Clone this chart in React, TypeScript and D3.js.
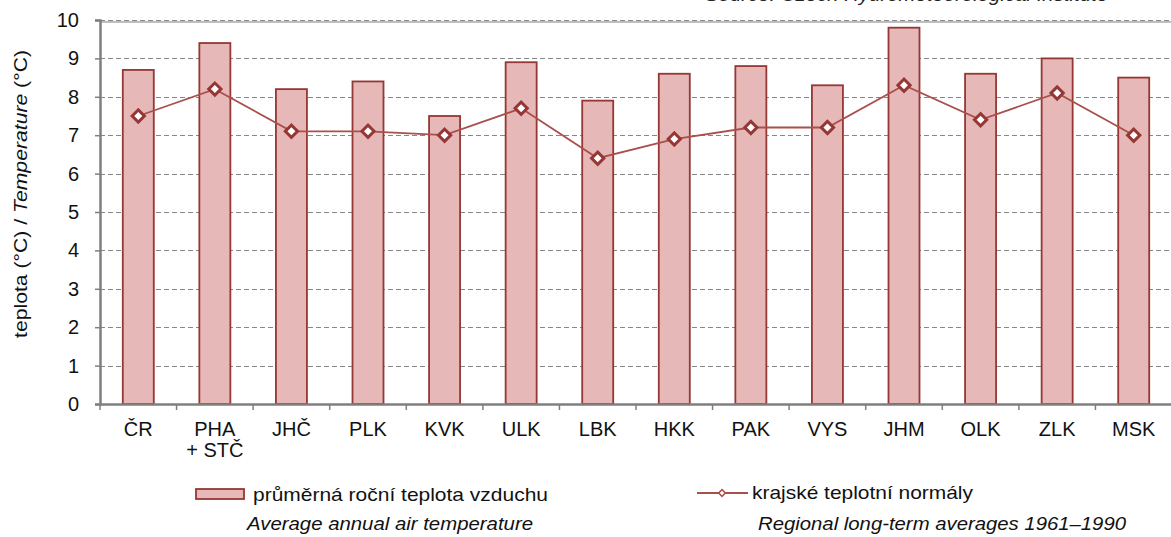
import { useRef, useEffect } from "react";
import * as d3 from "d3";

const categories = ["ČR", "PHA\n+ STČ", "JHČ", "PLK", "KVK", "ULK", "LBK", "HKK", "PAK", "VYS", "JHM", "OLK", "ZLK", "MSK"];
const annualTemp = [8.7, 9.4, 8.2, 8.4, 7.5, 8.9, 7.9, 8.6, 8.8, 8.3, 9.8, 8.6, 9.0, 8.5];
const normals = [7.5, 8.2, 7.1, 7.1, 7.0, 7.7, 6.4, 6.9, 7.2, 7.2, 8.3, 7.4, 8.1, 7.0];
const yTicks = [0, 1, 2, 3, 4, 5, 6, 7, 8, 9, 10];

const FONT = "'Liberation Sans', Arial, sans-serif";
const BAR_FILL = "#e6b8b7";
const BAR_STROKE = "#953735";
const LINE_COLOR = "#a9504d";

export default function App() {
  const svgRef = useRef<SVGSVGElement>(null);

  useEffect(() => {
    const svg = d3.select(svgRef.current);
    svg.selectAll("*").remove();

    const width = 1171;
    const height = 537;
    const margin = { top: 20, right: -1, bottom: 133, left: 100 };

    svg.attr("width", width).attr("height", height).style("font-family", FONT);

    const x = d3
      .scaleBand()
      .domain(categories)
      .range([margin.left, width - margin.right])
      .paddingInner(0)
      .paddingOuter(0);

    const y = d3
      .scaleLinear()
      .domain([0, 10])
      .range([height - margin.bottom, margin.top]);

    // source line, mostly cut off by the top edge
    svg
      .append("text")
      .attr("x", 705)
      .attr("y", 1)
      .attr("font-size", 19)
      .attr("font-style", "italic")
      .attr("fill", "#222")
      .attr("textLength", 403)
      .attr("lengthAdjust", "spacingAndGlyphs")
      .text("Source: Czech Hydrometeorological Institute");

    // gridlines
    svg
      .append("g")
      .selectAll("line")
      .data(yTicks.filter(d => d > 0))
      .enter()
      .append("line")
      .attr("x1", margin.left)
      .attr("x2", width)
      .attr("y1", d => Math.round(y(d)) + 0.5)
      .attr("y2", d => Math.round(y(d)) + 0.5)
      .attr("stroke", "#868686")
      .attr("stroke-width", 1.2)
      .attr("stroke-dasharray", "5,3");

    // top border (solid under dashes)
    svg
      .append("line")
      .attr("x1", margin.left)
      .attr("x2", width)
      .attr("y1", y(10) + 2)
      .attr("y2", y(10) + 2)
      .attr("stroke", "#7f7f7f")
      .attr("stroke-width", 1.2);

    // bars
    const barW = 31;
    svg
      .append("g")
      .selectAll("rect")
      .data(annualTemp)
      .enter()
      .append("rect")
      .attr("x", (d, i) => x(categories[i])! + x.bandwidth() / 2 - barW / 2)
      .attr("y", d => y(d))
      .attr("width", barW)
      .attr("height", d => y(0) - y(d))
      .attr("fill", BAR_FILL)
      .attr("stroke", BAR_STROKE)
      .attr("stroke-width", 1.8);

    // Y axis
    const yAxis = svg
      .append("g")
      .attr("transform", `translate(${margin.left},0)`)
      .call(d3.axisLeft(y).tickValues(yTicks).tickSize(5).tickPadding(16).tickFormat(d3.format("d")));
    yAxis.select(".domain").attr("stroke", "#7f7f7f").attr("stroke-width", 2.5);
    yAxis.selectAll(".tick line").attr("stroke", "#7f7f7f").attr("stroke-width", 1.5);
    yAxis.selectAll(".tick text").attr("font-size", 20).attr("font-family", FONT).attr("fill", "#111");

    // X axis
    const xAxis = svg
      .append("g")
      .attr("transform", `translate(0,${y(0)})`)
      .call(d3.axisBottom(x).tickSize(0).tickFormat(() => ""));
    xAxis.select(".domain").attr("stroke", "#7f7f7f").attr("stroke-width", 2.5);
    xAxis
      .selectAll(".sep")
      .data(categories)
      .enter()
      .append("line")
      .attr("x1", d => x(d)!)
      .attr("x2", d => x(d)!)
      .attr("y1", 0)
      .attr("y2", 6)
      .attr("stroke", "#7f7f7f")
      .attr("stroke-width", 1.5);

    // category labels
    const labels = svg
      .append("g")
      .selectAll("text")
      .data(categories)
      .enter()
      .append("text")
      .attr("x", d => x(d)! + x.bandwidth() / 2)
      .attr("y", y(0) + 32)
      .attr("text-anchor", "middle")
      .attr("font-size", 20)
      .attr("fill", "#111");
    labels
      .selectAll("tspan")
      .data(d => d.split("\n"))
      .enter()
      .append("tspan")
      .attr("x", function () {
        return (this.parentNode as SVGTextElement).getAttribute("x");
      })
      .attr("dy", (d, i) => (i === 0 ? 0 : 21))
      .text(d => d);

    // Y axis label
    const yl = svg
      .append("text")
      .attr("transform", `translate(27,${194}) rotate(-90)`)
      .attr("text-anchor", "middle")
      .attr("font-size", 19)
      .attr("fill", "#111")
      .attr("textLength", 288)
      .attr("lengthAdjust", "spacingAndGlyphs");
    yl.append("tspan").text("teplota (°C) / ");
    yl.append("tspan").attr("font-style", "italic").text("Temperature");
    yl.append("tspan").text(" (°C)");

    // normals line
    const line = d3
      .line<number>()
      .x((d, i) => x(categories[i])! + x.bandwidth() / 2)
      .y(d => y(d));

    svg
      .append("path")
      .datum(normals)
      .attr("fill", "none")
      .attr("stroke", LINE_COLOR)
      .attr("stroke-width", 1.8)
      .attr("d", line);

    svg
      .append("g")
      .selectAll("path")
      .data(normals)
      .enter()
      .append("path")
      .attr("transform", (d, i) => `translate(${x(categories[i])! + x.bandwidth() / 2},${y(d)}) rotate(45)`)
      .attr("d", d3.symbol().type(d3.symbolSquare).size(75)())
      .attr("fill", "#fff")
      .attr("stroke", "#953735")
      .attr("stroke-width", 3);

    // legend
    const lg = svg.append("g");
    lg.append("rect")
      .attr("x", 196)
      .attr("y", 489)
      .attr("width", 48)
      .attr("height", 10)
      .attr("fill", BAR_FILL)
      .attr("stroke", BAR_STROKE)
      .attr("stroke-width", 1.8);
    lg.append("text")
      .attr("x", 253)
      .attr("y", 501)
      .attr("font-size", 19)
      .attr("fill", "#111")
      .attr("textLength", 295)
      .attr("lengthAdjust", "spacingAndGlyphs")
      .text("průměrná roční teplota vzduchu");
    lg.append("text")
      .attr("x", 247)
      .attr("y", 530)
      .attr("font-size", 18)
      .attr("font-style", "italic")
      .attr("fill", "#111")
      .attr("textLength", 286)
      .attr("lengthAdjust", "spacingAndGlyphs")
      .text("Average annual air temperature");

    lg.append("line")
      .attr("x1", 697)
      .attr("x2", 748)
      .attr("y1", 493)
      .attr("y2", 493)
      .attr("stroke", LINE_COLOR)
      .attr("stroke-width", 1.8);
    lg.append("path")
      .attr("transform", "translate(722,493) rotate(45)")
      .attr("d", d3.symbol().type(d3.symbolSquare).size(22)())
      .attr("fill", "#fff")
      .attr("stroke", LINE_COLOR)
      .attr("stroke-width", 1.5);
    lg.append("text")
      .attr("x", 752)
      .attr("y", 499)
      .attr("font-size", 19)
      .attr("fill", "#111")
      .attr("textLength", 221)
      .attr("lengthAdjust", "spacingAndGlyphs")
      .text("krajské teplotní normály");
    lg.append("text")
      .attr("x", 758)
      .attr("y", 530)
      .attr("font-size", 18)
      .attr("font-style", "italic")
      .attr("fill", "#111")
      .attr("textLength", 368)
      .attr("lengthAdjust", "spacingAndGlyphs")
      .text("Regional long-term averages 1961–1990");
  }, []);

  return <svg ref={svgRef} style={{ position: "absolute", left: 0, top: 0, display: "block" }} />;
}
